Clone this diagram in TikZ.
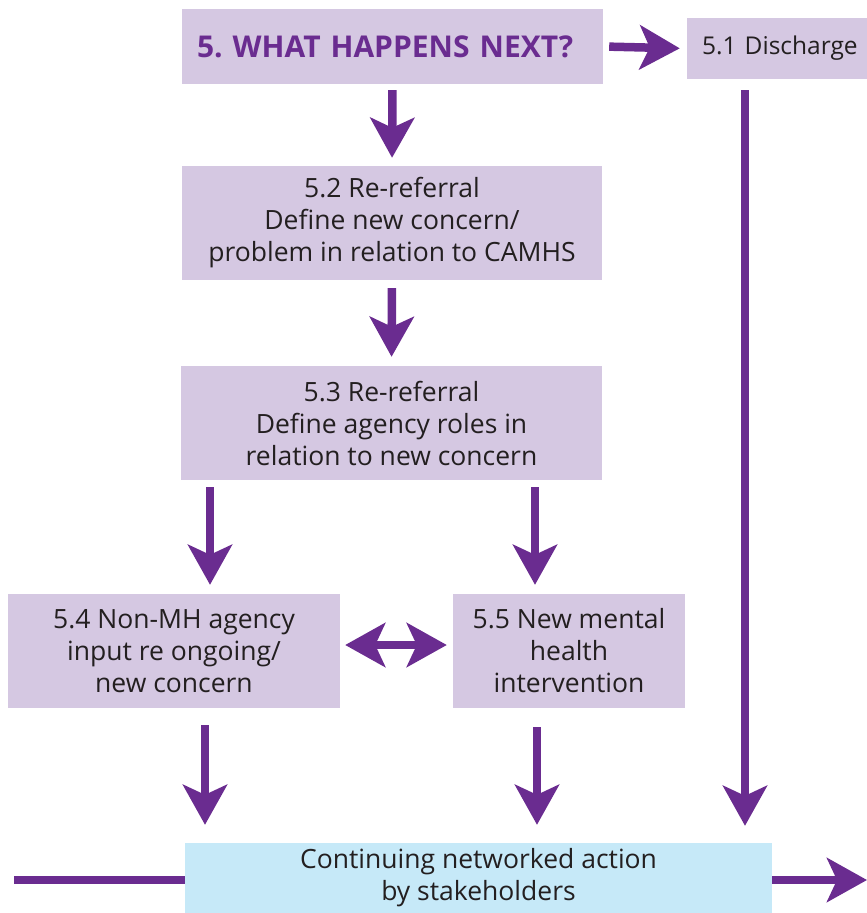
\documentclass[tikz,border=0pt]{standalone}
\usepackage{fontspec}
\setmainfont{Open Sans}
\usetikzlibrary{arrows.meta, positioning}
\definecolor{nhspurple}{HTML}{6A2C90}
\definecolor{lilac}{HTML}{D5C8E2}
\definecolor{paleblue}{HTML}{C6E9F8}
\definecolor{ink}{HTML}{231F20}
\tikzset{
  lbox/.style={rectangle,fill=lilac,text=ink,align=center,inner sep=0pt,font=\fontsize{26.5}{32}\selectfont},
  cbox/.style={lbox,fill=paleblue},
  arr/.style={-{Stealth[length=40pt,width=44pt,inset=10pt]},line width=8.5pt,draw=nhspurple},
  darr/.style={{Stealth[length=40pt,width=44pt,inset=10pt]}-{Stealth[length=40pt,width=44pt,inset=10pt]},line width=8.5pt,draw=nhspurple},
  bar/.style={line width=8.5pt,draw=nhspurple}
}
\frenchspacing
\begin{document}
\begin{tikzpicture}[x=1pt,y=-1pt]
  \useasboundingbox (0,0) rectangle (867,913);
  \node[lbox, minimum width=421pt, minimum height=75pt, text width=391pt, align=left,
    text=nhspurple, font=\fontsize{30}{32}\selectfont\bfseries] (top) at (392.5,46.5)
    {5. WHAT HAPPENS NEXT?};
  \node[lbox, minimum width=180pt, minimum height=61pt, text width=150pt, align=left,
    font=\fontsize{24.5}{32}\selectfont] (dis) at (777,48.5)
    {\mbox{5.1 Discharge}};
  \node[lbox, minimum width=420pt, minimum height=114pt] (rr) at (392,223)
    {5.2 Re-referral\\Define new concern/\\problem in relation to CAMHS};
  \node[lbox, minimum width=421pt, minimum height=114pt] (roles) at (391.5,423)
    {5.3 Re-referral\\Define agency roles in\\relation to new concern};
  \node[lbox, minimum width=332pt, minimum height=114pt] (nonmh) at (174,651)
    {5.4 Non-MH agency\\input re ongoing/\\new concern};
  \node[lbox, minimum width=232pt, minimum height=114pt] (newmh) at (569,651)
    {5.5 New mental\\health\\intervention};
  \node[cbox, minimum width=587pt, minimum height=70pt] (cont) at (478.5,878)
    {Continuing networked action\\by stakeholders};
  \coordinate (in) at (14,880);
  \coordinate (out) at (867,880);

  \draw[arr, shorten <=6pt, shorten >=7pt] (top.east) -- (dis.west);
  \draw[arr, shorten <=6pt, shorten >=8pt] (top.south) -- (rr.north);
  \draw[arr, shorten <=8pt, shorten >=9pt] (rr.south) -- (roles.north);
  \draw[arr, shorten <=7pt, shorten >=9pt] ([xshift=-181.5pt]roles.south) -- ([xshift=-181.5pt]roles.south |- nonmh.north);
  \draw[arr, shorten <=7pt, shorten >=9pt] ([xshift=143.5pt]roles.south) -- ([xshift=143.5pt]roles.south |- newmh.north);
  \draw[darr, shorten <=5pt, shorten >=6pt] ([yshift=6pt]nonmh.east) -- ([yshift=6pt]newmh.west);
  \draw[arr, shorten <=17pt, shorten >=18pt] ([xshift=31pt]nonmh.south) -- ([xshift=31pt]nonmh.south |- cont.north);
  \draw[arr, shorten <=19pt, shorten >=18pt] ([xshift=-32pt]newmh.south) -- ([xshift=-32pt]newmh.south |- cont.north);
  \draw[arr, shorten <=11pt, shorten >=17pt] ([xshift=-32pt]dis.south) -- ([xshift=-32pt]dis.south |- cont.north);
  \draw[bar] (in) -- (in -| cont.west);
  \draw[arr] (out -| cont.east) -- (out);
\end{tikzpicture}
\end{document}
